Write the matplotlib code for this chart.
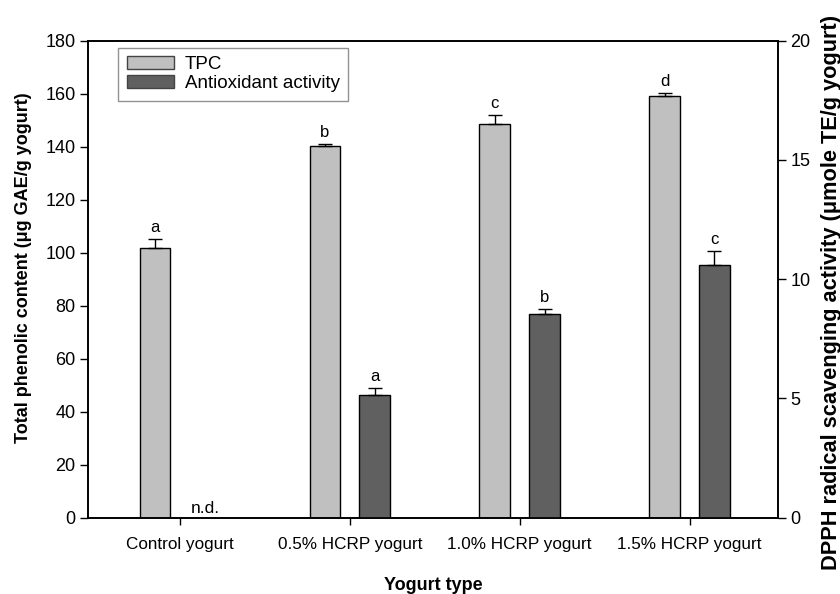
import matplotlib
matplotlib.use('Agg')
import matplotlib.pyplot as plt
import numpy as np
from matplotlib.patches import Patch

plt.rcParams['font.family'] = ['Liberation Sans', 'DejaVu Sans']

# Data
categories = ['Control yogurt', '0.5% HCRP yogurt', '1.0% HCRP yogurt', '1.5% HCRP yogurt']
tpc = [101.7, 140.3, 148.5, 159.1]
tpc_err = [3.5, 0.8, 3.5, 1.0]
tpc_letters = ['a', 'b', 'c', 'd']
antiox = [0.0, 5.14, 8.52, 10.61]
antiox_err = [0.0, 0.28, 0.22, 0.57]
antiox_letters = ['', 'a', 'b', 'c']

x = np.arange(len(categories))
w = 0.18
off = 0.147

fig = plt.figure(figsize=(8.4, 5.94), dpi=100)
ax = fig.add_axes([0.105, 0.1285, 0.821, 0.803])
ax2 = ax.twinx()

# TPC bars (left axis)
ax.bar(x - off, tpc, w, color='#c0c0c0', edgecolor='black', linewidth=1.0, zorder=2)
ax.errorbar(x - off, tpc, yerr=[np.zeros(4), tpc_err], fmt='none', ecolor='black',
            elinewidth=1.0, capsize=5, capthick=1.0, zorder=3)
for xi, v, e, l in zip(x - off, tpc, tpc_err, tpc_letters):
    ax.annotate(l, (xi, v + e), xytext=(0, 3), textcoords='offset points',
                ha='center', va='bottom', fontsize=12)

# antioxidant bars (right axis), control not detected
mask = np.array(antiox) > 0
ax2.bar(x[mask] + off, np.array(antiox)[mask], w, color='#606060', edgecolor='black',
        linewidth=1.0, zorder=2)
ax2.errorbar(x[mask] + off, np.array(antiox)[mask],
             yerr=[np.zeros(mask.sum()), np.array(antiox_err)[mask]], fmt='none',
             ecolor='black', elinewidth=1.0, capsize=5, capthick=1.0, zorder=3)
for xi, v, e, l in zip(x + off, antiox, antiox_err, antiox_letters):
    if l:
        ax2.annotate(l, (xi, v + e), xytext=(0, 3), textcoords='offset points',
                     ha='center', va='bottom', fontsize=12)
ax2.annotate('n.d.', (x[0] + off, 0), xytext=(0, 1), textcoords='offset points',
             ha='center', va='bottom', fontsize=12.5)

ax.set_xlim(-0.54, 3.52)
ax.set_ylim(0, 180)
ax.set_yticks(np.arange(0, 181, 20))
ax2.set_ylim(0, 20)
ax2.set_yticks([0, 5, 10, 15, 20])

ax.set_xticks(x)
ax.set_xticklabels(categories, fontsize=12.3)
ax.tick_params(axis='x', length=5, width=1.0, pad=9)
ax.tick_params(axis='y', labelsize=13, length=6, width=1.0, pad=3)
ax2.tick_params(axis='y', labelsize=13, length=6, width=1.0, pad=3)

for a in (ax, ax2):
    for s in a.spines.values():
        s.set_linewidth(1.2)

ax.set_xlabel('Yogurt type', fontsize=13, fontweight='bold', labelpad=18)
fig.text(24 / 840, 1 - 268 / 594, 'Total phenolic content (\u03bcg GAE/g yogurt)',
         rotation=90, ha='center', va='center', fontsize=13, fontweight='bold')
fig.text(831 / 840, 1 - 292 / 594, 'DPPH radical scavenging activity (\u03bcmole TE/g yogurt)',
         rotation=90, ha='center', va='center', fontsize=15.7, fontweight='bold')

handles = [Patch(facecolor='#c0c0c0', edgecolor='#444444', label='TPC'),
           Patch(facecolor='#606060', edgecolor='#444444', label='Antioxidant activity')]
leg = ax.legend(handles=handles, loc='upper left', bbox_to_anchor=(0.0435, 0.985),
                fontsize=13.5, frameon=True, fancybox=False, edgecolor='#777777',
                handlelength=2.5, handleheight=0.7, borderpad=0.45, labelspacing=0.1,
                handletextpad=0.6, borderaxespad=0)
leg.get_frame().set_linewidth(1.0)

fig.savefig('out.png', dpi=100)
